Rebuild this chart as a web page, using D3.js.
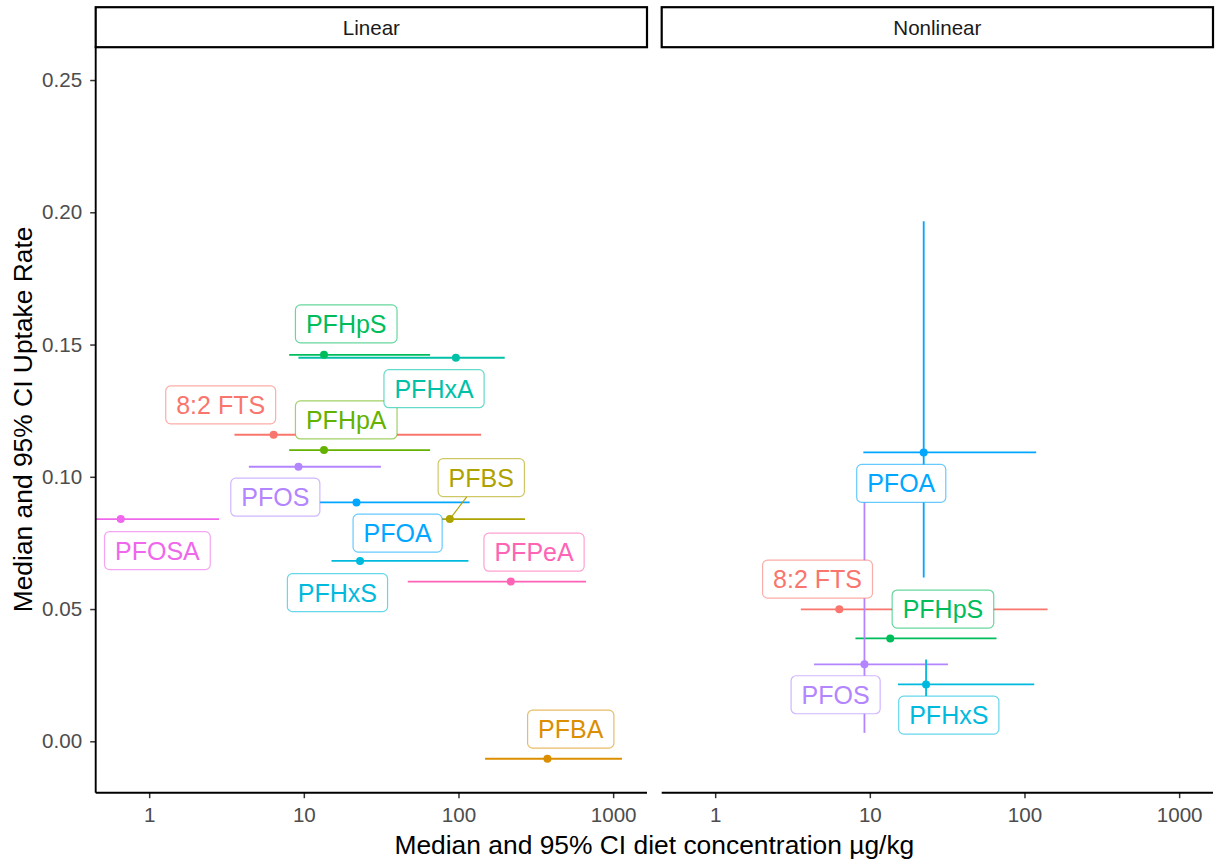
<!DOCTYPE html>
<html>
<head>
<meta charset="utf-8">
<script src="https://cdn.jsdelivr.net/npm/d3@7"></script>
<style>
  body { margin: 0; background: #ffffff; }
  svg { display: block; font-family: "Liberation Sans", Arial, Helvetica, sans-serif; }
</style>
</head>
<body>
<svg id="chart" width="1222" height="863"></svg>
<script>
// ---- compounds and their colours (hue palette, alphabetical order) ----
const compounds = ["8:2 FTS", "PFBA", "PFBS", "PFHpA", "PFHpS", "PFHxA", "PFHxS", "PFOA", "PFOS", "PFOSA", "PFPeA"];
const compoundColours = ["#F8766D", "#DB8E00", "#AEA200", "#64B200", "#00BD5C", "#00C1A7", "#00BADE", "#00A6FF", "#B385FF", "#EF67EB", "#FF63B6"];

const models = ["Linear", "Nonlinear"];
const xTicks = [1, 10, 100, 1000];
const yTicks = [0, 0.05, 0.10, 0.15, 0.20, 0.25];

// ---- Linear model: diet concentration (median, 95% CI) and uptake rate ----
const linCompound = ["8:2 FTS", "PFBA", "PFBS", "PFHpA", "PFHpS", "PFHxA", "PFHxS", "PFOA", "PFOS", "PFOSA", "PFPeA"];
const linDietMedian = [6.38, 376, 87.9, 13.5, 13.5, 96.2, 23.1, 21.9, 9.23, 0.655, 218];
const linDietLow    = [3.56, 148.6, 30, 8.04, 8.04, 9.23, 15.1, 9.5, 4.41, 0, 47];
const linDietHigh   = [140, 1140, 269, 65.5, 65.5, 199, 116, 118, 31.5, 2.83, 668];
const linRate       = [0.1159, -0.0066, 0.0840, 0.1101, 0.1461, 0.1450, 0.0682, 0.0903, 0.1038, 0.0840, 0.0604];

// ---- Nonlinear model: diet concentration (median, 95% CI) and uptake rate (median, 95% CI) ----
const nonCompound = ["8:2 FTS", "PFHpS", "PFHxS", "PFOA", "PFOS"];
const nonDietMedian = [6.35, 13.55, 23.1, 22.3, 9.23];
const nonDietLow    = [3.58, 8.07, 15.2, 9.08, 4.36];
const nonDietHigh   = [141, 65.9, 115.6, 119, 32.0];
const nonRate       = [0.0499, 0.0389, 0.0215, 0.1092, 0.0291];
const nonRateLow    = [null, null, 0.010, 0.0619, 0.0032];
const nonRateHigh   = [null, null, 0.0309, 0.1966, 0.098];

// ---- label placement (repelled label centres, in data units) ----
const linLabelX = [2.90, 532, 140.4, 18.8, 18.8, 69.5, 16.5, 40.4, 6.54, 1.13, 308];
const linLabelY = [0.1272, 0.0046, 0.0997, 0.1215, 0.1578, 0.1333, 0.0562, 0.0787, 0.0923, 0.0721, 0.0715];
const nonLabelX = [4.59, 29.7, 32.4, 15.96, 6.01];
const nonLabelY = [0.0613, 0.0500, 0.0099, 0.0975, 0.0176];

// ---- layout ----
const panelTop = 46.1, panelBottom = 792.7, panelW = 551.3;
const panelLeft = [95.7, 661.7];
const panelH = panelBottom - panelTop;
const axisFont = 20.6, titleFont = 26.4, labelFont = 25;

const colour = d3.scaleOrdinal().domain(compounds).range(compoundColours);

const linRows = linCompound.map((c, i) => ({
  c, x: linDietMedian[i], lo: linDietLow[i], hi: linDietHigh[i], y: linRate[i],
  ylo: null, yhi: null, lx: linLabelX[i], ly: linLabelY[i]
}));
const nonRows = nonCompound.map((c, i) => ({
  c, x: nonDietMedian[i], lo: nonDietLow[i], hi: nonDietHigh[i], y: nonRate[i],
  ylo: nonRateLow[i], yhi: nonRateHigh[i], lx: nonLabelX[i], ly: nonLabelY[i]
}));
const panelsData = [linRows, nonRows];

// shared scale limits from medians/intervals, with 5% expansion like ggplot
const allRows = linRows.concat(nonRows);
const xVals = [];
allRows.forEach(r => { [r.x, r.lo, r.hi].forEach(v => { if (v > 0) xVals.push(Math.log10(v)); }); });
const xMinL = Math.log10(d3.min(allRows, r => r.x)); // intervals at zero are drawn to the panel edge
const xMaxL = d3.max(xVals);
const xExp = (xMaxL - xMinL) * 0.05;
const yMin = d3.min(allRows, r => r.y), yMax = 0.25;
const yExp = (yMax - yMin) * 0.05;

const xs = d3.scaleLog()
  .domain([Math.pow(10, xMinL - xExp), Math.pow(10, xMaxL + xExp)])
  .range([0, panelW]);
const ys = d3.scaleLinear()
  .domain([yMin - yExp, yMax + yExp])
  .range([panelH, 0]);
const xPos = v => (v > 0 ? xs(v) : 0);

const svg = d3.select("#chart");
const defs = svg.append("defs");

models.forEach((model, pi) => {
  const g = svg.append("g").attr("transform", `translate(${panelLeft[pi]},${panelTop})`);
  const rows = panelsData[pi];

  // clip marks to the panel
  defs.append("clipPath").attr("id", "clip" + pi)
    .append("rect").attr("x", 0).attr("y", 0).attr("width", panelW).attr("height", panelH);
  const marks = g.append("g").attr("clip-path", `url(#clip${pi})`);

  // horizontal intervals (diet concentration)
  marks.selectAll("line.hbar").data(rows).join("line")
    .attr("class", "hbar")
    .attr("x1", d => xPos(d.lo)).attr("x2", d => xPos(d.hi))
    .attr("y1", d => ys(d.y)).attr("y2", d => ys(d.y))
    .attr("stroke", d => colour(d.c)).attr("stroke-width", 1.8);

  // vertical intervals (uptake rate)
  marks.selectAll("line.vbar").data(rows.filter(d => d.ylo != null)).join("line")
    .attr("class", "vbar")
    .attr("x1", d => xPos(d.x)).attr("x2", d => xPos(d.x))
    .attr("y1", d => ys(d.ylo)).attr("y2", d => ys(d.yhi))
    .attr("stroke", d => colour(d.c)).attr("stroke-width", 1.8);

  // medians
  marks.selectAll("circle").data(rows).join("circle")
    .attr("cx", d => xPos(d.x)).attr("cy", d => ys(d.y)).attr("r", 4)
    .attr("fill", d => colour(d.c));

  // labels with boxes; a leader segment when the box sits away from its point
  rows.forEach(d => {
    const cx = xs(d.lx), cy = ys(d.ly);
    const lg = marks.append("g");
    const rect = lg.append("rect");
    const txt = lg.append("text")
      .attr("x", cx).attr("y", cy + 9)
      .attr("text-anchor", "middle")
      .attr("font-size", labelFont)
      .attr("fill", colour(d.c))
      .text(d.c);
    const tw = txt.node().getComputedTextLength();
    const bw = tw + 21, bh = 38;
    const bx = cx - bw / 2, by = cy - bh / 2;
    rect.attr("x", bx).attr("y", by).attr("width", bw).attr("height", bh)
      .attr("rx", 5).attr("ry", 5)
      .attr("fill", "#ffffff")
      .attr("stroke", colour(d.c)).attr("stroke-opacity", 0.6).attr("stroke-width", 1.2);

    const px = xPos(d.x), py = ys(d.y);
    const dx = Math.max(bx - px, 0, px - (bx + bw));
    const dy = Math.max(by - py, 0, py - (by + bh));
    if (Math.hypot(dx, dy) > 16) {
      // end the segment where the line to the box centre meets the box edge
      const vx = cx - px, vy = cy - py;
      const tx = vx !== 0 ? (Math.abs(vx) - bw / 2) / Math.abs(vx) : 0;
      const ty = vy !== 0 ? (Math.abs(vy) - bh / 2) / Math.abs(vy) : 0;
      const t = Math.max(tx, ty);
      lg.insert("line", "rect")
        .attr("x1", px).attr("y1", py)
        .attr("x2", px + vx * t).attr("y2", py + vy * t)
        .attr("stroke", colour(d.c)).attr("stroke-width", 1.1);
    }
  });

  // x axis
  const xa = g.append("g").attr("transform", `translate(0,${panelH})`)
    .call(d3.axisBottom(xs).tickValues(xTicks).tickFormat(d3.format("d")).tickSize(5.5).tickPadding(9));
  xa.select(".domain").remove();
  xa.selectAll(".tick line").attr("stroke", "#333333").attr("stroke-width", 1.5);
  xa.selectAll(".tick text").attr("fill", "#4D4D4D").attr("font-size", axisFont)
    .attr("font-family", "Liberation Sans, Arial, sans-serif");
  g.append("line").attr("x1", 0).attr("x2", panelW).attr("y1", panelH).attr("y2", panelH)
    .attr("stroke", "#000000").attr("stroke-width", 1.9);

  // y axis only on the first panel
  if (pi === 0) {
    const ya = g.append("g")
      .call(d3.axisLeft(ys).tickValues(yTicks).tickFormat(d3.format(".2f")).tickSize(5.5).tickPadding(8));
    ya.select(".domain").remove();
    ya.selectAll(".tick line").attr("stroke", "#333333").attr("stroke-width", 1.5);
    ya.selectAll(".tick text").attr("fill", "#4D4D4D").attr("font-size", axisFont)
      .attr("font-family", "Liberation Sans, Arial, sans-serif");
    g.append("line").attr("x1", 0).attr("x2", 0).attr("y1", 0).attr("y2", panelH)
      .attr("stroke", "#000000").attr("stroke-width", 1.9);
  }

  // facet strip
  svg.append("rect")
    .attr("x", panelLeft[pi]).attr("y", 7.2).attr("width", panelW).attr("height", 40)
    .attr("fill", "#ffffff").attr("stroke", "#000000").attr("stroke-width", 2.2);
  svg.append("text")
    .attr("x", panelLeft[pi] + panelW / 2).attr("y", 34.6)
    .attr("text-anchor", "middle").attr("font-size", axisFont).attr("fill", "#1A1A1A")
    .text(model);
});

// axis titles
svg.append("text")
  .attr("x", (panelLeft[0] + panelLeft[1] + panelW) / 2).attr("y", 854)
  .attr("text-anchor", "middle").attr("font-size", titleFont).attr("fill", "#000000")
  .text("Median and 95% CI diet concentration µg/kg");
svg.append("text")
  .attr("transform", `translate(32,${(panelTop + panelBottom) / 2}) rotate(-90)`)
  .attr("text-anchor", "middle").attr("font-size", titleFont).attr("fill", "#000000")
  .text("Median and 95% CI Uptake Rate");
</script>
</body>
</html>
